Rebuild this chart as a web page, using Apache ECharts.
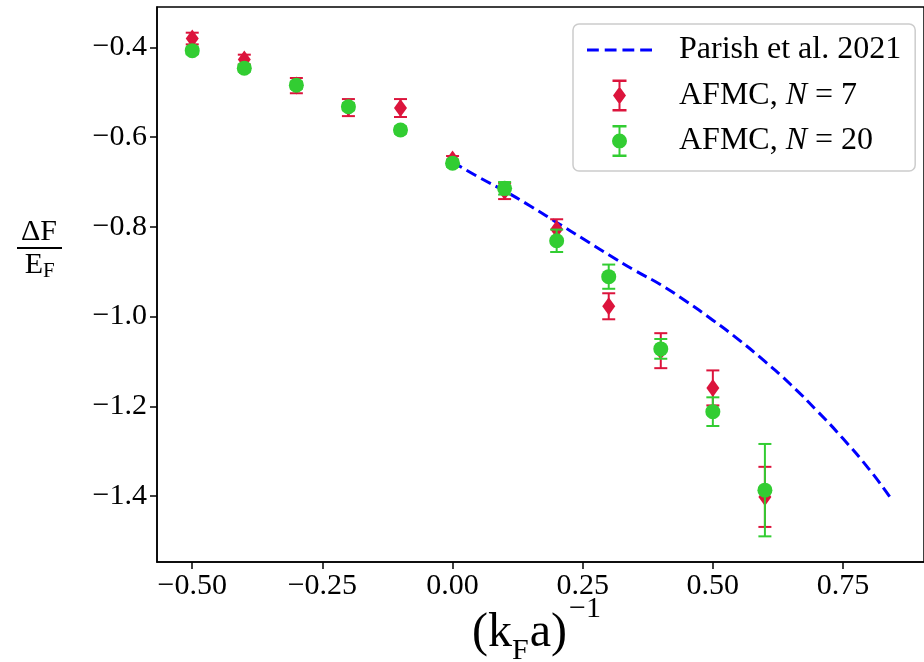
<!DOCTYPE html>
<html>
<head>
<meta charset="utf-8">
<script src="https://cdn.jsdelivr.net/npm/echarts@6/dist/echarts.min.js"></script>
<style>
html,body{margin:0;padding:0;background:#fff;}
#chart{width:924px;height:662px;}
</style>
</head>
<body>
<div id="chart"></div>
<script>
// ---- data ----
const xVals = [-0.5, -0.4, -0.3, -0.2, -0.1, 0.0, 0.1, 0.2, 0.3, 0.4, 0.5, 0.6];
const redVals = [-0.380, -0.427, -0.485, -0.534, -0.535, -0.650, -0.720, -0.805, -0.977, -1.076, -1.159, -1.402];
const redErr  = [0.013, 0.011, 0.017, 0.019, 0.020, 0.008, 0.018, 0.022, 0.029, 0.039, 0.039, 0.067];
const greenVals = [-0.407, -0.446, -0.484, -0.532, -0.584, -0.658, -0.714, -0.831, -0.911, -1.072, -1.212, -1.387];
const greenErr  = [0.008, 0.008, 0.008, 0.008, 0.008, 0.008, 0.014, 0.025, 0.027, 0.022, 0.032, 0.103];
const parishX = [0, 0.05, 0.1, 0.15, 0.2, 0.25, 0.3, 0.35, 0.4, 0.45, 0.5, 0.55, 0.6, 0.65, 0.7, 0.75, 0.8, 0.84];
const parishY = [-0.655, -0.689, -0.720, -0.754, -0.790, -0.826, -0.862, -0.897, -0.929, -0.967, -1.008, -1.052, -1.100, -1.152, -1.210, -1.272, -1.340, -1.402];
const xTicks = [-0.5, -0.25, 0, 0.25, 0.5, 0.75];
const yTicks = [-0.4, -0.6, -0.8, -1.0, -1.2, -1.4];
const seriesNames = ['Parish et al. 2021', 'AFMC, N = 7', 'AFMC, N = 20'];

// ---- styling ----
const FONT = 'Liberation Serif';
const RED = '#DC143C', GREEN = '#32CD32', BLUE = '#0000FF';

function fmt(v, d) {
  const s = Math.abs(v).toFixed(d);
  return (v < -1e-9 ? '\u2212' : '') + s;
}

const mctx = document.createElement('canvas').getContext('2d');
function tw(text, size) {
  mctx.font = size + 'px "' + FONT + '"';
  return mctx.measureText(text).width;
}

function errRender(color, marker) {
  return function (params, api) {
    const x = api.value(0), y = api.value(1), e = api.value(2);
    const c = api.coord([x, y]);
    const t = api.coord([x, y + e]);
    const b = api.coord([x, y - e]);
    const hw = 6.5;
    const ls = {stroke: color, lineWidth: 2};
    const children = [
      {type: 'line', shape: {x1: c[0], y1: t[1], x2: c[0], y2: b[1]}, style: ls},
      {type: 'line', shape: {x1: c[0] - hw, y1: t[1], x2: c[0] + hw, y2: t[1]}, style: ls},
      {type: 'line', shape: {x1: c[0] - hw, y1: b[1], x2: c[0] + hw, y2: b[1]}, style: ls}
    ];
    if (marker === 'diamond') {
      children.push({type: 'polygon', shape: {points: [[c[0], c[1] - 9], [c[0] + 6.5, c[1]], [c[0], c[1] + 9], [c[0] - 6.5, c[1]]]}, style: {fill: color}});
    } else {
      children.push({type: 'circle', shape: {cx: c[0], cy: c[1], r: 7.5}, style: {fill: color}});
    }
    return {type: 'group', children: children};
  };
}

const redIcon = 'path://M0,0H14V2.4H0Z M6,0H8V32H6Z M0,29.6H14V32H0Z M7,7L13.5,16L7,25L0.5,16Z';
const greenIcon = 'path://M0,0H14V2.4H0Z M6,0H8V32H6Z M0,29.6H14V32H0Z M-0.5,16A7.5,7.5 0 1,1 14.5,16A7.5,7.5 0 1,1 -0.5,16Z';
const dashIcon = 'path://M0,0H11V3H0Z M16.5,0H27.5V3H16.5Z M33,0H44V3H33Z M49.5,0H60.5V3H49.5Z';

// x-axis label pieces: (k_F a)^{-1}
const MAIN = 48, SMALL = 30;
const lx0 = 472;
const w1 = tw('(k', MAIN), wF = tw('F', SMALL), w2 = tw('a)', MAIN);
const xF = lx0 + w1, xA = xF + wF + 1, xS = xA + w2 + 2;

const chart = echarts.init(document.getElementById('chart'), null, {renderer: 'canvas'});
const option = {
  backgroundColor: '#fff',
  animation: false,
  grid: {left: 157, top: 7, width: 772, height: 555, show: true, borderColor: '#000', borderWidth: 1.5, backgroundColor: 'transparent'},
  xAxis: {
    type: 'value', min: -0.5677, max: 0.9056,
    splitLine: {show: false},
    axisLine: {show: true, onZero: false, lineStyle: {color: '#000', width: 1.5}},
    axisTick: {show: true, length: 7, lineStyle: {color: '#000', width: 1.5}, customValues: xTicks},
    axisLabel: {customValues: xTicks, formatter: v => fmt(v, 2), fontFamily: FONT, fontSize: 30, color: '#000', margin: 9}
  },
  yAxis: {
    type: 'value', min: -1.5472, max: -0.3097,
    splitLine: {show: false},
    axisLine: {show: true, onZero: false, lineStyle: {color: '#000', width: 1.5}},
    axisTick: {show: true, length: 7, lineStyle: {color: '#000', width: 1.5}, customValues: yTicks},
    axisLabel: {customValues: yTicks, formatter: v => fmt(v, 1), fontFamily: FONT, fontSize: 30, color: '#000', margin: 10}
  },
  legend: {
    orient: 'vertical', left: 573, top: 24,
    padding: [10, 14, 14, 14], itemGap: 13.5, itemWidth: 65, itemHeight: 32,
    backgroundColor: 'rgba(255,255,255,0.8)', borderColor: '#cccccc', borderWidth: 1.5, borderRadius: 6,
    symbolKeepAspect: true,
    data: [
      {name: seriesNames[0], icon: dashIcon, itemStyle: {color: BLUE}},
      {name: seriesNames[1], icon: redIcon, itemStyle: {color: RED}},
      {name: seriesNames[2], icon: greenIcon, itemStyle: {color: GREEN}}
    ],
    formatter: function (name) {
      if (name.indexOf('AFMC') === 0) {
        const num = name.split('= ')[1];
        return '{sp|}{r|AFMC, }{i|N}{r| = ' + num + '}';
      }
      return '{sp|}{r|' + name + '}';
    },
    textStyle: {
      fontFamily: FONT, fontSize: 32, color: '#000',
      rich: {
        sp: {width: 22},
        r: {fontFamily: FONT, fontSize: 32, color: '#000'},
        i: {fontFamily: FONT, fontSize: 32, color: '#000', fontStyle: 'italic'}
      }
    }
  },
  graphic: [
    {type: 'text', x: 39, y: 232, style: {text: '\u0394F', fontFamily: FONT, fontSize: 30, fill: '#000', align: 'center', verticalAlign: 'middle'}},
    {type: 'rect', shape: {x: 17, y: 247, width: 45, height: 2}, style: {fill: '#000'}},
    {type: 'text', x: 43, y: 265, style: {text: 'E', fontFamily: FONT, fontSize: 30, fill: '#000', align: 'right', verticalAlign: 'middle'}},
    {type: 'text', x: 43, y: 271, style: {text: 'F', fontFamily: FONT, fontSize: 21, fill: '#000', align: 'left', verticalAlign: 'middle'}},
    {type: 'text', x: lx0, y: 633, style: {text: '(k', fontFamily: FONT, fontSize: MAIN, fill: '#000', align: 'left', verticalAlign: 'middle'}},
    {type: 'text', x: xF, y: 651, style: {text: 'F', fontFamily: FONT, fontSize: SMALL, fill: '#000', align: 'left', verticalAlign: 'middle'}},
    {type: 'text', x: xA, y: 633, style: {text: 'a)', fontFamily: FONT, fontSize: MAIN, fill: '#000', align: 'left', verticalAlign: 'middle'}},
    {type: 'text', x: xS, y: 609, style: {text: '\u22121', fontFamily: FONT, fontSize: SMALL, fill: '#000', align: 'left', verticalAlign: 'middle'}}
  ],
  series: [
    {
      name: seriesNames[0], type: 'line', showSymbol: false, symbol: 'none', smooth: true,
      data: parishX.map((x, i) => [x, parishY[i]]),
      lineStyle: {color: BLUE, width: 3, type: [11, 5.5]},
      itemStyle: {color: BLUE}, z: 2
    },
    {
      name: seriesNames[1], type: 'custom', renderItem: errRender(RED, 'diamond'),
      data: xVals.map((x, i) => [x, redVals[i], redErr[i]]),
      itemStyle: {color: RED}, encode: {x: 0, y: 1}, z: 3
    },
    {
      name: seriesNames[2], type: 'custom', renderItem: errRender(GREEN, 'circle'),
      data: xVals.map((x, i) => [x, greenVals[i], greenErr[i]]),
      itemStyle: {color: GREEN}, encode: {x: 0, y: 1}, z: 4
    }
  ]
};
chart.setOption(option);
</script>
</body>
</html>
